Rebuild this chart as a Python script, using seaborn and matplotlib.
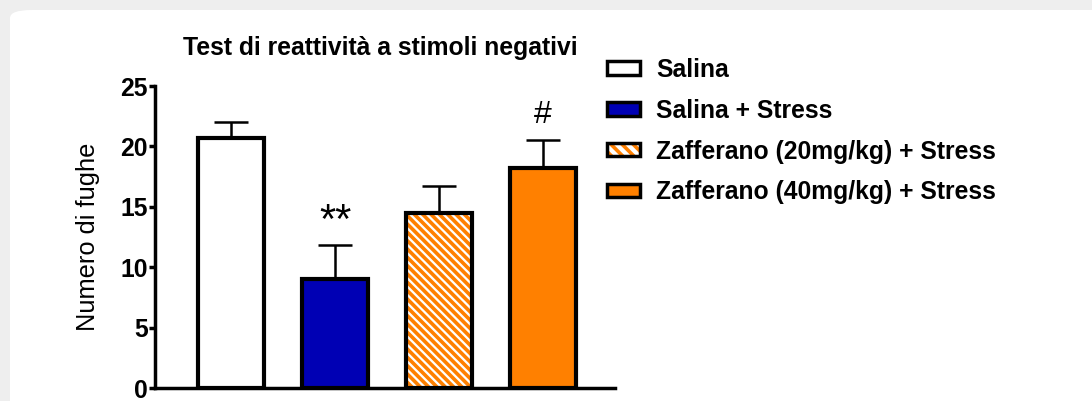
import matplotlib
matplotlib.use("Agg")
import matplotlib.pyplot as plt
from matplotlib.patches import Rectangle, FancyBboxPatch, Patch
from matplotlib.legend_handler import HandlerTuple
import seaborn as sns
import pandas as pd

# Data: mean number of escapes and SEM per treatment group
groups = ["Salina", "Salina + Stress",
          "Zafferano (20mg/kg) + Stress", "Zafferano (40mg/kg) + Stress"]
means = [20.7, 9.0, 14.5, 18.2]
sems = [1.3, 2.8, 2.2, 2.3]
marks = ["", "**", "", "#"]
mark_sizes = [0, 30, 0, 23]
colors = ["#ffffff", "#0000b4", "#ffffff", "#ff8000"]
hatches = ["", "", "\\\\\\\\", ""]
hatch_color = "#ff8000"
yticks = [0, 5, 10, 15, 20, 25]

sns.set_theme(style="white")
plt.rcParams["font.family"] = ["Liberation Sans", "DejaVu Sans"]
plt.rcParams["hatch.linewidth"] = 2.6
for key in ["text.color", "axes.labelcolor", "xtick.color", "ytick.color"]:
    plt.rcParams[key] = "black"

df = pd.DataFrame({"group": groups, "mean": means})

fig = plt.figure(figsize=(10.92, 4.01), dpi=100)
fig.patch.set_facecolor("#eeeeee")
# white card behind the chart
card = FancyBboxPatch((10 / 1092, -0.1), 1.2, 1.1 - 10 / 401,
                      boxstyle="round,pad=0,rounding_size=0.02",
                      transform=fig.transFigure, facecolor="white",
                      edgecolor="none", zorder=-10)
fig.patches.append(card)

ax = fig.add_axes([155 / 1092, (401 - 388) / 401, 460 / 1092, 302 / 401])
ax.set_facecolor("none")

sns.barplot(data=df, x="group", y="mean", hue="group", order=groups,
            hue_order=groups, palette=colors, width=0.63, legend=False,
            edgecolor="black", linewidth=3, saturation=1, ax=ax, zorder=2)

bars = list(ax.patches)
for bar, h in zip(bars, hatches):
    if h:
        bar.set_hatch(h)
        bar.set_edgecolor(hatch_color)
        bar.set_linewidth(0)
        x0, y0 = bar.get_xy()
        ax.add_patch(Rectangle((x0, y0), bar.get_width(), bar.get_height(),
                               fill=False, edgecolor="black", linewidth=3,
                               zorder=3))

xs = range(len(groups))
ax.errorbar(xs, means, yerr=[[0] * len(sems), sems], fmt="none",
            ecolor="black", elinewidth=1.8, capsize=12.5, capthick=1.8,
            zorder=1)

# significance marks above the error bars
for x, m, s, t, fs in zip(xs, means, sems, marks, mark_sizes):
    if t:
        ax.text(x, m + s + (1.0 if t == "**" else 1.4), t, ha="center",
                va="baseline", fontsize=fs, color="black")

ax.set_ylim(0, 25)
ax.set_xlim(-0.73, 3.69)
ax.set_yticks(yticks)
ax.set_yticklabels([str(v) for v in yticks], fontweight="bold", fontsize=17.8)
ax.set_xticks([])
ax.set_xlabel("")
ax.set_ylabel("Numero di fughe", fontsize=18.3, labelpad=15)
ax.tick_params(axis="y", direction="out", length=4.5, width=2.5, pad=0.5,
               left=True, colors="black")
for side in ["top", "right"]:
    ax.spines[side].set_visible(False)
for side in ["left", "bottom"]:
    ax.spines[side].set_linewidth(2.5)
    ax.spines[side].set_color("black")
ax.set_title("Test di reattività a stimoli negativi", fontsize=17.8,
             fontweight="bold", pad=22, x=0.49)

handles = []
for c, h in zip(colors, hatches):
    if h:
        handles.append((Patch(facecolor="white", edgecolor=hatch_color,
                              hatch="\\\\\\", linewidth=0),
                        Patch(fill=False, edgecolor="black", linewidth=2.5)))
    else:
        handles.append(Patch(facecolor=c, edgecolor="black", linewidth=2.5))
leg = fig.legend(handles, groups, loc="upper left",
                 bbox_to_anchor=(597 / 1092, 1 - 48 / 401), frameon=False,
                 prop={"weight": "bold", "size": 17.8}, handlelength=1.35,
                 handleheight=0.45, handletextpad=0.65, labelspacing=0.68,
                 borderaxespad=0, handler_map={tuple: HandlerTuple(ndivide=1)})

fig.savefig("out.png", dpi=100, facecolor=fig.get_facecolor())
